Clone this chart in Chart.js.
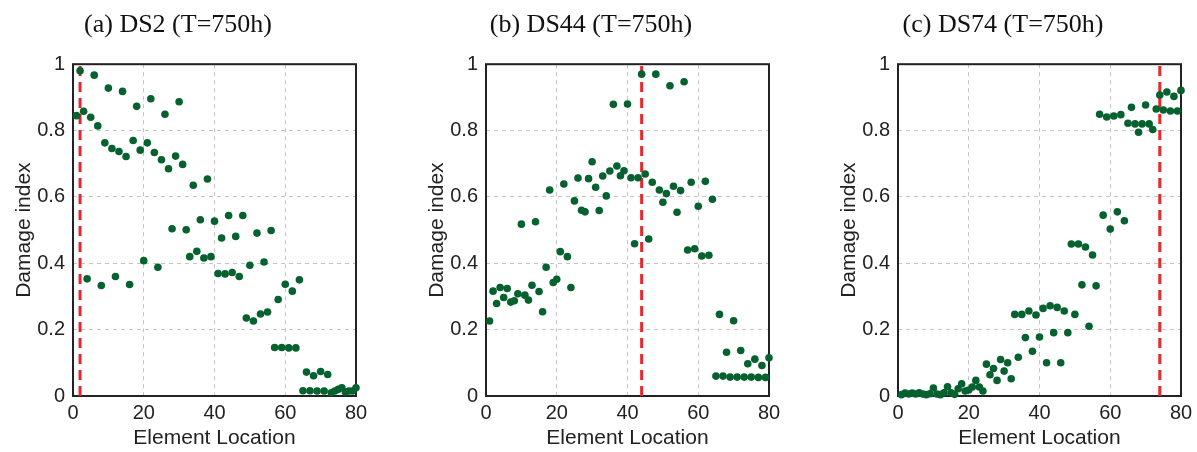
<!DOCTYPE html>
<html>
<head>
<meta charset="utf-8">
<script src="https://cdn.jsdelivr.net/npm/chart.js@4.4.1/dist/chart.umd.min.js"></script>
<style>
  body { margin: 0; background: #fff; width: 1197px; height: 452px; position: relative; overflow: hidden; }
  .panel { position: absolute; top: 0; width: 400px; height: 452px; }
</style>
</head>
<body>
<div class="panel" style="left:0px"><canvas id="c0" width="400" height="452"></canvas></div>
<div class="panel" style="left:413px"><canvas id="c1" width="400" height="452"></canvas></div>
<div class="panel" style="left:825px"><canvas id="c2" width="400" height="452"></canvas></div>
<script>
const elementLocation = [
  1, 2, 3, 4, 5, 6, 7, 8, 9, 10, 11, 12, 13, 14, 15, 16, 17, 18, 19, 20,
  21, 22, 23, 24, 25, 26, 27, 28, 29, 30, 31, 32, 33, 34, 35, 36, 37, 38, 39, 40,
  41, 42, 43, 44, 45, 46, 47, 48, 49, 50, 51, 52, 53, 54, 55, 56, 57, 58, 59, 60,
  61, 62, 63, 64, 65, 66, 67, 68, 69, 70, 71, 72, 73, 74, 75, 76, 77, 78, 79, 80
];

const damageDS2 = [
  0.845, 0.98, 0.858, 0.353, 0.84, 0.967, 0.814, 0.333, 0.763, 0.928,
  0.746, 0.36, 0.737, 0.918, 0.722, 0.336, 0.77, 0.873, 0.741, 0.408,
  0.763, 0.896, 0.734, 0.388, 0.712, 0.849, 0.685, 0.504, 0.723, 0.887,
  0.698, 0.501, 0.42, 0.635, 0.436, 0.531, 0.416, 0.654, 0.42, 0.527,
  0.369, 0.476, 0.368, 0.544, 0.372, 0.481, 0.36, 0.544, 0.235, 0.394,
  0.226, 0.491, 0.247, 0.404, 0.253, 0.499, 0.146, 0.291, 0.146, 0.337,
  0.145, 0.316, 0.145, 0.35, 0.016, 0.072, 0.016, 0.061, 0.015, 0.074,
  0.015, 0.065, 0.01, 0.015, 0.02, 0.025, 0.012, 0.015, 0.015, 0.025
];

const damageDS44 = [
  0.226, 0.316, 0.279, 0.327, 0.297, 0.324, 0.283, 0.287, 0.308, 0.518,
  0.304, 0.289, 0.334, 0.525, 0.315, 0.254, 0.388, 0.621, 0.342, 0.352,
  0.435, 0.639, 0.42, 0.327, 0.588, 0.657, 0.56, 0.555, 0.655, 0.706,
  0.629, 0.559, 0.663, 0.603, 0.678, 0.879, 0.693, 0.664, 0.679, 0.88,
  0.658, 0.459, 0.658, 0.97, 0.669, 0.473, 0.644, 0.97, 0.621, 0.584,
  0.61, 0.935, 0.632, 0.554, 0.619, 0.947, 0.44, 0.644, 0.444, 0.572,
  0.422, 0.647, 0.424, 0.593, 0.06, 0.246, 0.06, 0.132, 0.057, 0.227,
  0.057, 0.137, 0.057, 0.097, 0.057, 0.111, 0.056, 0.092, 0.056, 0.115
];

const damageDS74 = [
  0.004, 0.009, 0.006, 0.009, 0.006, 0.01, 0.006, 0.004, 0.007, 0.024,
  0.006, 0.004, 0.01, 0.028, 0.01, 0.005, 0.022, 0.037, 0.015, 0.018,
  0.027, 0.047, 0.027, 0.015, 0.096, 0.064, 0.083, 0.047, 0.11, 0.075,
  0.1, 0.052, 0.246, 0.117, 0.246, 0.176, 0.256, 0.135, 0.244, 0.178,
  0.264, 0.1, 0.272, 0.191, 0.267, 0.1, 0.256, 0.191, 0.458, 0.246,
  0.458, 0.335, 0.449, 0.21, 0.425, 0.332, 0.849, 0.545, 0.841, 0.503,
  0.844, 0.555, 0.848, 0.528, 0.822, 0.87, 0.82, 0.795, 0.82, 0.877,
  0.82, 0.803, 0.865, 0.907, 0.862, 0.916, 0.859, 0.903, 0.859, 0.921
];

const damagedElement = [2, 44, 74];
const panelTitles = ["(a) DS2 (T=750h)", "(b) DS44 (T=750h)", "(c) DS74 (T=750h)"];
const panelSeries = [damageDS2, damageDS44, damageDS74];

const green = "#05622f";
const red = "#e8262c";
const sans = "'Liberation Sans', Arial, sans-serif";
const serif = "'Liberation Serif', 'Times New Roman', serif";

// black box round the plot area
const frame = {
  id: "frame",
  beforeDatasetsDraw(chart) {
    const a = chart.chartArea;
    const c = chart.ctx;
    c.save();
    c.strokeStyle = "#222";
    c.lineWidth = 2;
    c.strokeRect(a.left, a.top, a.right - a.left, a.bottom - a.top);
    c.restore();
  }
};

function makePanel(i) {
  const points = elementLocation.map((x, k) => ({ x, y: panelSeries[i][k] }));
  const mark = damagedElement[i];

  new Chart(document.getElementById("c" + i), {
    type: "scatter",
    data: {
      datasets: [
        {
          data: points,
          pointRadius: 3.8,
          pointBackgroundColor: green,
          pointBorderWidth: 0,
          clip: false
        },
        {
          type: "line",
          data: [{ x: mark, y: 0 }, { x: mark, y: 1 }],
          borderColor: red,
          borderWidth: 3,
          borderDash: [10, 6],
          pointRadius: 0
        }
      ]
    },
    options: {
      responsive: false,
      animation: false,
      layout: { padding: { left: 0, right: 44, top: 0, bottom: 0 } },
      plugins: {
        legend: { display: false },
        tooltip: { enabled: false },
        title: {
          display: true,
          text: panelTitles[i],
          color: "#111",
          font: { family: serif, size: 26, weight: "normal" },
          padding: { top: 10, bottom: 23 }
        }
      },
      scales: {
        x: {
          type: "linear",
          min: 0,
          max: 80,
          afterFit(s) { s.height = 56; },
          ticks: { stepSize: 20, color: "#222", padding: 5, font: { family: sans, size: 20 } },
          grid: { color: "#c4c4c4", drawTicks: false },
          border: { display: false, dash: [4, 4] },
          title: {
            display: true,
            text: "Element Location",
            color: "#222",
            font: { family: sans, size: 21 },
            padding: { top: 0, bottom: 1 }
          }
        },
        y: {
          min: 0,
          max: 1,
          afterFit(s) { s.width = 73; },
          ticks: {
            stepSize: 0.2,
            color: "#222",
            padding: 8,
            font: { family: sans, size: 20 },
            callback: v => String(Math.round(v * 10) / 10)
          },
          grid: { color: "#c4c4c4", drawTicks: false },
          border: { display: false, dash: [4, 4] },
          title: {
            display: true,
            text: "Damage index",
            color: "#222",
            font: { family: sans, size: 21 },
            padding: { top: 12, bottom: 0 }
          }
        }
      }
    },
    plugins: [frame]
  });
}

[0, 1, 2].forEach(makePanel);
</script>
</body>
</html>
